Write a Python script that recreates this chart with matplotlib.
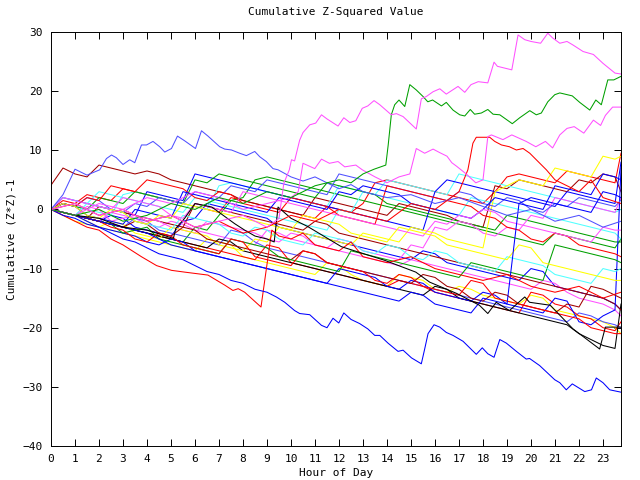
import matplotlib
matplotlib.use("Agg")
import matplotlib.pyplot as plt

# colores del terminal png de gnuplot
RED = "#ff0000"
GREEN = "#00a000"
BLUE = "#0000ff"
MAGENTA = "#ff50ff"
CYAN = "#50ffff"
DKRED = "#a00000"
YELLOW = "#ffff00"
BLACK = "#000000"
LTBLUE = "#5050ff"

# rejilla de media hora para las lineas del grupo central (0 .. 23.5, 23.75)
hours = [i / 2 for i in range(48)] + [23.75]

c01 = [0, 1.5, 1, 2.5, 2, 1.5, 3.5, 3, 2.5, 2, 1.5, 1, 0.5, 0, -0.5, 2, 1.5, 1, 0.5, 0, -0.5, -1, -1.5, 0.5,
       0, -0.5, 1, 4.5, 5, 4.5, 4, 3.5, 3, 2.5, 2, 1.5, 1, 3, 5.5, 6, 5.5, 5, 4.5, 6.5, 6, 5.5, 5, 4.5, 9.5]
c02 = [4.1, 7, 6, 5.5, 7.5, 7, 6.5, 6, 6.5, 6, 5, 4.5, 4, 3.5, 3, 2.5, 1.5, 1, 0.5, 0, -0.5, -1, 2, 1.5,
       1, 0.5, 0, -0.5, -1, 1, 0.5, 0, -0.5, -1, -2, -2.5, -3, 4, 3.5, 5, 4.5, 4, 3.5, 3, 5, 4.5, 6, 5.5, 3]
c03 = [0, -0.5, -1, -1.5, -2, -1, -1.5, -3, -3.5, -4, -4.5, -2, -1.5, 1, 0.5, 0, -0.5, -1, -1.5, -3, -3.5, -4, -4.5, -5,
       -5.5, -6, -6.5, -7, -7.5, -8, -8.5, -7, -7.5, -9, -9.5, -10, -10.5, -11, -11.5, -12, -10, -10.5, -13, -13.5, -14, -14.5, -15, -16, -17]
c04 = [0, -0.5, -1, -1.5, -2, -2.5, -3, -3.5, -4, -4.5, -5, -5.5, -3, -3.5, -1, 1.5, 2, 5, 5.5, 5, 4.5, 4, 3.5, 3,
       2.5, 2, 1.5, 1, 0.5, 0, -0.5, -1, -1.5, -2, -2.5, -3, -3.5, -4, -4.5, -5, -5.5, -6, -4, -4.5, -5, -5.5, -6, -6.5, -5]
c05 = [0, -0.5, -1, -1.5, -2, -0.5, -1, -1.5, -2.5, -3, -2, -2.5, -3.5, -4, -4.5, -5, -5.5, -6, -3.5, -4, -5, -5.5, -6, -6.5,
       -7, -7.5, -8, -8.5, -9, -9.5, -8.5, -9, -9.5, -10, -10.5, -11, -11.5, -12, -12.5, -13, -13.5, -12, -12.5, -14, -15, -15.5, -16, -17, -18]
c06 = [0, 1, 0.5, 0, -0.5, -1, 2.5, 3, 2.5, 2, 1.5, 1, 0.5, 0, 4, 4.5, 4, 3.5, 3, 2.5, 2, 1.5, 1, 0.5,
       4, 3.5, 3, 2.5, 5, 4.5, 4, 3.5, 3, 2.5, 6, 5.5, 5, 4.5, 4, 3.5, 3, 2.5, 2, 1.5, 1, 0.5, 0, -0.5, 0]
c07 = [0, -0.5, -1, -2, -3, -3.5, -4, -4.5, -5, -5.5, -6, -6.5, -7, -5, -5.5, -6, -8, -8.5, -9, -9.5, -10, -10.5, -11, -9,
       -9.5, -11, -12, -12.5, -13, -11, -11.5, -12, -13.5, -14, -13, -13.5, -14.5, -15, -15.5, -16, -14.5, -15, -17, -17.5, -18, -18.5, -19, -20, -21]
c08 = [0, -0.5, -1, -1.5, -2, -2.5, -3, -1.5, -2, -3.5, -4, -4.5, -5, -5.5, -6, -3.5, -4, -5.5, -6.5, -7, -7.5, -8, -8.5, -9,
       -9.5, -10, -10.5, -11, -11.5, -12, -12.5, -13, -13.5, -14, -14.5, -15, -15.5, -16, -16.5, -17, -17.5, -18, -18.5, -19, -17.5, -18, -19, -19.5, -20]
c09 = [0, -0.5, -1, -1.5, -2, -2.5, -3, -3.5, -4, -4.5, -5, -5.5, -6, -6.5, -7, -7.5, -8, -8.5, -6, -6.5, -9, -9.5, -10, -10.5,
       -11, -11.5, -12, -12.5, -13, -12, -12.5, -13, -14, -14.5, -15, -15.5, -16, -16.5, -17, -17.5, -14, -14.5, -16, -16.5, -18, -18.5, -20, -20.5, -19]
c10 = [0, -0.5, -1, -1.5, -2, -2.5, -3, -3.5, -4, -4.5, -5, -5.5, -6, -6.5, -5, -5.5, -7, -7.5, -8, -8.5, -9, -9.5, -10, -10.5,
       -11, -11.5, -12, -12.5, -13, -13.5, -14, -14.5, -13, -13.5, -15, -15.5, -16, -16.5, -17, -17.5, -18, -18.5, -19, -19.5, -21, -22, -23, -23.5, -16]
c11 = [0, 2, 1.5, 1, 0.5, 0, -0.5, -1, 3, 2.5, 2, 1.5, 6, 5.5, 5, 4.5, 4, 3.5, 3, 2.5, 2, 1.5, 1, 0.5,
       0, -0.5, -1, -1.5, -2, -2.5, -3, -3.5, 3, 5, 4.5, 4, 3.5, 3, 2.5, 2, 1.5, 1, 0.5, 3, 2.5, 2, 1.5, 1, 8]
c12 = [0, 2, 1.5, 1, 3, 2.5, 2, 1.5, 1, 0.5, 0, -0.5, 2, 1.5, 1, 0.5, 0, -0.5, -1, -1.5, -2, -2.5, -3, -3.5,
       0, -0.5, 3, 2.5, 2, 1.5, 1, 0.5, 0, -0.5, -1, 2, 1.5, 1, 0.5, 0, -0.5, -1, -1.5, -2, -2.5, -3, -3.5, -4, -5]
c13 = [0, -0.5, -1, -1.5, 0.5, 0, -0.5, -1, -1.5, -2, -2.5, -3, 1, 0.5, 0, -0.5, -1, -1.5, -2, -2.5, -3, -3.5, -2, -2.5,
       -4, -4.5, -5, -5.5, -6, -6.5, -7, -7.5, -8, -8.5, -9, -9.5, -10, -10.5, -11, -11.5, -12, -12.5, -13, -13.5, -14, -14.5, -15, -16, -17]
c14 = [0, 1, 0.5, 0, 2, 1.5, 1, 3, 2.5, 2, 1.5, 1, 5, 4.5, 6, 5.5, 5, 4.5, 4, 3.5, 3, 2.5, 2, 4.5,
       4, 3.5, 3, 2.5, 1, 0.5, 0, -0.5, -1, -1.5, -2, -2.5, -3, -3.5, -1, -1.5, -2, -2.5, -3, -3.5, -4, -4.5, -5, -5.5, -5.5]
c15 = [0, -0.5, -1, 0.5, 0, -2, -1.5, -1, -1.5, -2, -3, -3.5, -4, -2, -2.5, -3, -3.5, -4, -5, -5.5, -4, -4.5, -6, -6.5,
       -5, -5.5, -7, -7.5, -8, -8.5, -6, -6.5, -3, -3.5, -2, -2.5, -4, -4.5, -3, -3.5, -1, -1.5, 2, 1.5, 1, 0.5, 0, -0.5, 2]
c16 = [0, -1, -2, -2.5, -3, -2, -2.5, -4, -4.5, -5, -3, -3.5, -4, -4.5, -6, -6.5, -7, -5, -5.5, -3, -3.5, -4, -4.5, -5,
       -5.5, -6, -4, -4.5, -5, -5.5, -3, -3.5, -4, -5, -5.5, -6, -6.5, 3, 4, 5, 4.5, 4, 7, 6.5, 6, 5.5, 9, 8.5, 9]
c17 = [0, -0.5, -1, -2, -3, -3.5, -4, -4.5, -5.5, -6, -5, -5.5, -7, -7.5, -8, -8.5, -9, -9.5, -10, -10.5, -11, -11.5, -12, -12.5,
       -10, -10.5, -11, -11.5, -13, -13.5, -12, -12.5, -14, -14.5, -15, -15.5, -14, -14.5, -16, -16.5, -17, -17.5, -15, -15.5, -19, -19.5, -18, -17, 7]
c18 = [0, 1, 0.5, 2, 1.5, 0, -0.5, 1, 0.5, 2, 1.5, 1, 3, 2.5, 2, 4, 3.5, 3, 5, 4.5, 4, 3.5, 3, 2.5,
       6, 5.5, 5, 4.5, 4, 3.5, 3, 2.5, 2, 1.5, 3, 2.5, 1, 0.5, 2, 1.5, 0, -0.5, 1, 0.5, 2, 1.5, 1, 0.5, 1.6]
c19 = [0, 1, 0.5, 2, 1.5, 4, 3.5, 3, 5, 4.5, 4, 3.5, 2, 1.5, 3, 2.5, 1, 0.5, 0, -0.5, 2, 1.5, 1, 0.5,
       -1, -1.5, -2, -2.5, 4, 3.5, 3, 2.5, 2, 1.5, 1, 0.5, -1, -1.5, -3, -3.5, -5, -5.5, -4, -4.5, -6, -6.5, -7, -7.5, -8]
c20 = [0, -0.5, -1, -1.5, -2, -2.5, -3, -2, -2.5, -4, -4.5, -3, -3.5, -5, -5.5, -6, -6.5, -7, -7.5, -8, -8.5, -7, -7.5, -9,
       -9.5, -10, -10.5, -11, -11.5, -12, -12.5, -11, -11.5, -13, -13.5, -15, -15.5, -14, -14.5, -16, -16.5, -17, -17.5, -16, -16.5, -13, -13.5, -14.5, -15]
c21 = [0, -0.5, -1, -1.5, -2, -2.5, -4, -3.5, -3, -5, -5.5, -6, -6.5, -7, -7.5, -5, -5.5, -6, -6.5, -8, -8.5, -9, -9.5, -10,
       -10.5, -7, -7.5, -8, -8.5, -9, -9.5, -10, -10.5, -11, -11.5, -9, -9.5, -10, -10.5, -11, -11.5, -12, -6, -6.5, -7, -7.5, -8, -8.5, -9]
c22 = [0, -0.5, -1, 1, 0.5, 0, -0.5, -2, -2.5, -3, -3.5, -1, -1.5, -2, -2.5, -4, -4.5, -3, -3.5, -5, -5.5, -6, -4, -4.5,
       -5, -5.5, -7, -7.5, -6, -6.5, -8, -8.5, -7, -7.5, -9, -9.5, -10, -10.5, -8, -8.5, -9, -9.5, -11, -11.5, -12, -12.5, -10, -10.5, -10]
c23 = [0, 1, 0.5, -1, -1.5, -2, -2.5, 0, -0.5, -1, -1.5, 3, 2.5, 2, 1.5, 1, 0.5, 0, -0.5, 2, 1.5, 1, 0.5, 0,
       3, 2.5, 4, 3.5, 3, 2.5, 1, 0.5, 0, -0.5, -1, -1.5, 0, 2, 1.5, 1, 0.5, 0, 4, 3.5, 3, 2.5, 6, 5.5, 5]
c24 = [0, 2, 1.5, 1, 0.5, 0, 2, 1.5, 1, 0.5, -1, -1.5, 1, 0.5, 0, -0.5, 3, 2.5, 2, 1.5, 1, 0.5, 0, -0.5,
       -1, -1.5, -2, -2.5, -3, -3.5, -4, -4.5, -2, -2.5, -1, -1.5, 0, -0.5, -2, -2.5, -3, -3.5, -4, -4.5, -5, -5.5, -3, -3.5, -3.5]
c25 = [0, 1, 0.5, -1, -1.5, 0, -0.5, -2, -2.5, -1, -1.5, 1, 0.5, 0, -0.5, -1, -1.5, -2, -2.5, -3, -3.5, -1, -1.5, -2,
       -2.5, -4, -4.5, -5, -5.5, -3, -3.5, -4, -4.5, -6, -6.5, -7, -7.5, -8, -8.5, -6, -6.5, -9, -9.5, -10, -10.5, -11, -11.5, -12, -12]
c26 = [0, -0.5, -1, -1.5, -2, -3, -3.5, -5, -5.5, -4, -4.5, -6, -6.5, -7, -7.5, -5, -5.5, -8, -8.5, -9, -9.5, -7, -7.5, -9,
       -9.5, -10, -10.5, -12, -12.5, -11, -11.5, -13, -13.5, -14, -14.5, -12, -12.5, -15, -15.5, -16, -16.5, -17, -17.5, -18, -18.5, -20, -20.5, -21, -21]
c27 = [0, -0.5, -1, -1.5, -2, -2.5, -3, -3.5, -4, -5, -6, -6.5, -7, -7.5, -8, -8.5, -9, -9.5, -10, -10.5, -11, -11.5, -12, -12.5,
       -13, -13.5, -14, -14.5, -15, -15.5, -14, -14.5, -16, -16.5, -17, -17.5, -15, -15.5, -16, 1, 2, 1.5, 1, 0.5, 0, -0.5, 3, 2.5, 2]

# lineas destacadas, leidas con mas detalle
a_h = [0, 1, 2, 3, 4, 5, 6, 7, 8, 9, 9.5, 9.7, 9.93, 10.02, 10.15, 10.36, 10.5, 10.78, 11.03, 11.27,
       11.5, 11.96, 12.2, 12.45, 12.7, 12.97, 13.2, 13.46, 13.7, 14.18, 14.39, 14.67, 15.22, 15.43,
       15.64, 15.92, 16.2, 16.47, 16.96, 17.24, 17.5, 17.8, 18.2, 18.46, 18.6, 19.2, 19.46, 19.74,
       20.0, 20.4, 20.7, 20.9, 21.2, 21.5, 21.75, 22.17, 22.6, 23.0, 23.5, 23.75]
a_v = [0, 1, -1, 0, -2, -1, -3, -2, -1, -3, -1.5, 4.4, 6.7, 8.4, 8.2, 11.7, 13.0, 14.3, 14.6, 16.0,
       15.3, 14.1, 15.5, 14.7, 15.0, 17.1, 17.5, 18.4, 17.7, 16.0, 16.2, 15.7, 13.6, 18.7,
       19.1, 19.9, 20.4, 19.5, 20.8, 19.8, 21.1, 21.6, 21.4, 24.9, 24.2, 23.6, 29.5, 28.7,
       28.4, 28.1, 29.8, 29.0, 28.1, 28.4, 27.8, 26.7, 26.2, 24.7, 23.05, 22.9]

b_h = [0, 1, 2, 3, 4, 5, 6, 7, 8, 9, 10, 11, 12, 12.5, 13, 13.46, 13.95, 14.05, 14.18, 14.32, 14.5,
       14.74, 14.95, 15.22, 15.5, 15.7, 15.9, 16.27, 16.47, 16.75, 17.03, 17.24, 17.47, 17.65, 17.93,
       18.2, 18.42, 18.7, 19.22, 19.53, 19.95, 20.22, 20.43, 20.7, 20.99, 21.2, 21.72, 22.03, 22.45,
       22.7, 22.93, 23.2, 23.45, 23.75]
b_v = [0, -1, 0, -2, -1, 1, 0, 2, 1, 3, 2, 4, 5, 4.5, 6, 6.8, 7.5, 10.9, 16.0, 17.7, 18.5,
       17.4, 21.1, 20.2, 19.1, 18.2, 18.5, 17.5, 18.1, 16.8, 16.0, 15.8, 16.9, 16.1, 16.3,
       16.9, 16.1, 16.0, 14.5, 15.5, 16.7, 16.0, 16.3, 18.2, 19.4, 19.7, 19.2, 18.1, 16.8,
       18.5, 17.7, 21.9, 21.9, 22.5]

c_h = [0, 0.5, 1, 1.5, 2, 2.5, 3, 3.5, 4, 4.5, 5, 5.5, 6, 6.5, 7, 7.5, 8, 8.5, 9, 9.39, 9.74,
       10.15, 10.36, 10.78, 11.27, 11.5, 11.75, 11.99, 12.2, 12.5, 12.86, 13.2, 13.49, 13.7, 14.04,
       14.46, 14.67, 15.02, 15.43, 15.57, 15.71, 15.96, 16.2, 16.47, 16.75, 17.17, 17.72, 17.97,
       18.2, 18.46, 18.7, 18.97, 19.39, 19.8, 19.94, 20.36, 20.99, 21.2, 21.47, 21.72, 22.24, 22.52,
       22.72, 23.0, 23.28, 23.75]
c_v = [0, -1, -1.5, -2.5, -3, -4, -5, -5.5, -6.5, -7.5, -8, -8.5, -9.5, -10.5, -11, -12, -12.5, -13.5, -14, -14.8, -15.7,
       -17.1, -17.6, -17.8, -19.6, -20.0, -18.4, -19.2, -17.5, -18.6, -19.3, -20.2, -21.3, -21.3, -22.6,
       -24.0, -23.8, -25.1, -26.1, -23.6, -21.0, -19.5, -19.9, -20.8, -21.3, -22.3, -24.5, -23.4,
       -24.4, -25.0, -22.0, -22.6, -24.0, -25.3, -25.2, -26.4, -28.8, -29.3, -30.5, -29.5, -30.8, -30.5,
       -28.5, -29.3, -30.5, -30.9]

d_h = [0, 0.5, 1.0, 1.5, 2.03, 2.31, 2.52, 2.72, 3.0, 3.28, 3.49, 3.77, 3.98, 4.25, 4.53, 4.74, 5.02,
       5.27, 5.57, 6.02, 6.27, 6.54, 7.03, 7.24, 7.52, 7.86, 8.14, 8.49, 8.7, 8.97, 9.25, 9.46, 10,
       10.5, 11, 11.5, 12, 12.5, 13, 14, 15, 16, 17, 18, 19, 20, 21, 22, 23, 23.75]
d_v = [0, 2.5, 6.8, 5.8, 6.7, 8.6, 9.2, 8.75, 7.6, 8.4, 7.9, 10.9, 10.9, 11.5, 10.6, 9.7, 10.3,
       12.4, 11.6, 10.3, 13.3, 12.4, 10.6, 10.2, 10.05, 9.5, 9.1, 9.8, 8.9, 8.1, 6.9, 6.7, 5.5,
       4.8, 5.5, 4.5, 3.5, 4.2, 3, 2, 2.5, 1, 2, 0.5, -1, 0, -2, -1, -3, -2]

e_h = [0, 0.5, 1, 1.5, 2, 2.5, 3, 3.77, 4.4, 5.02, 5.57, 6.54, 7.24, 7.58, 7.8, 8.07, 8.75, 9.2, 9.5,
       10, 10.5, 11, 12, 12.5, 13, 14, 15, 16, 17, 18, 19, 20, 21, 22, 23, 23.75]
e_v = [0, -1, -2, -3, -3.5, -5, -6, -8, -9.5, -10.3, -10.6, -11.1, -12.8, -13.7, -13.4, -14.0, -16.5, -3.5, -4.5,
       -5, -4, -6, -7, -5.5, -8, -9, -8, -10, -11, -12, -11, -13, -14, -13, -15, -14]

f_h = [0, 1, 2, 3, 4, 5, 6, 7, 8, 9, 10, 10.3, 10.5, 10.99, 11.27, 11.6, 11.96, 12.24, 12.7, 12.97,
       13.5, 14, 14.5, 14.95, 15.22, 15.57, 15.92, 16.2, 16.5, 16.7, 16.9, 17.3, 17.7, 18.0, 18.2,
       18.35, 18.83, 19.2, 19.8, 20.2, 20.6, 20.9, 21.2, 21.5, 21.8, 22.2, 22.6, 22.9, 23.1, 23.4, 23.75]
f_v = [0, -1, 1, 0, 2, 1, 3, 2, 0, 1, 2, 3, 7.8, 6.9, 8.5, 7.8, 8.1, 7.2, 7.5, 6.7,
       5.5, 4.5, 5.5, 6.0, 10.3, 9.5, 10.2, 9.6, 9.0, 7.9, 7.3, 6, 4.5, 5, 12.3,
       12.6, 11.8, 12.6, 11.5, 10.6, 11.5, 10.4, 12.6, 13.7, 14.0, 12.9, 15.1, 14.2, 15.9, 17.3, 17.3]

g_h = [0, 1, 2, 3, 4, 5, 6, 7, 8, 9, 10, 11, 12, 13, 14, 15, 16, 17, 17.37, 17.58, 17.72, 18.28,
       18.49, 18.77, 19.1, 19.39, 19.67, 19.95, 20.22, 20.64, 21, 21.5, 22, 22.5, 23, 23.75]
g_v = [0, 1, -1, 0, -2, -1, -3, -2, -4, -3, -1, -2, 0, -1, -2, 1, 0, 3, 6.7, 11.2, 12.2, 12.2,
       11.5, 10.9, 10.6, 10.05, 10.3, 9.5, 8.4, 6.7, 5, 4, 3, 5, 2, 1]

k_h = [0, 1, 2, 3, 4, 5.1, 5.2, 5.57, 6.0, 6.7, 7.65, 8.07, 8.5, 9.0, 9.3, 9.46, 10, 10.7, 12.1,
       13.9, 15.2, 15.78, 16.9, 17.85, 18.2, 18.55, 19.1, 19.74, 19.94, 20.8, 21.75, 22.86, 23.1, 23.75]
k_v = [0, -1, -1.5, -3, -3.5, -4.9, -3.2, -1.5, 1.0, 0.4, -2.4, -3.5, -4.5, -5, -5.5, 0.4, -1.5, -2.9, -6.3,
       -8.6, -10.6, -12.3, -14.2, -16.2, -17.6, -15.7, -17.1, -14.8, -15.7, -16.2, -20.2, -23.6, -19.9, -19.9]

cluster = [
    (c01, RED), (c02, DKRED), (c03, BLUE), (c04, GREEN), (c05, MAGENTA), (c06, CYAN),
    (c07, YELLOW), (c08, LTBLUE), (c09, RED), (c10, BLACK), (c11, BLUE), (c12, CYAN),
    (c13, DKRED), (c14, GREEN), (c15, MAGENTA), (c16, YELLOW), (c17, BLUE), (c18, LTBLUE),
    (c19, RED), (c20, DKRED), (c21, GREEN), (c22, CYAN), (c23, BLUE), (c24, MAGENTA),
    (c25, YELLOW), (c26, RED), (c27, BLUE),
]
featured = [
    (d_h, d_v, LTBLUE), (e_h, e_v, RED), (k_h, k_v, BLACK), (c_h, c_v, BLUE),
    (g_h, g_v, RED), (f_h, f_v, MAGENTA), (b_h, b_v, GREEN), (a_h, a_v, MAGENTA),
]

plt.rcParams['font.family'] = ['DejaVu Sans Mono']
fig = plt.figure(figsize=(6.4, 4.8), dpi=100)
ax = fig.add_axes([51 / 640, 1 - 446 / 480, 570 / 640, 414 / 480])

for vals, col in cluster:
    ax.plot(hours[:len(vals)], vals, color=col, lw=0.75)
for h, v, col in featured:
    ax.plot(h, v, color=col, lw=0.75)

ax.set_xlim(0, 23.75)
ax.set_ylim(-40, 30)
ax.set_xticks(range(24))
ax.set_yticks(range(-40, 31, 10))
ax.tick_params(direction='in', length=5, width=0.7, top=True, right=True, labelsize=8, pad=6)
for s in ax.spines.values():
    s.set_linewidth(0.7)

ax.set_title('Cumulative Z-Squared Value', fontsize=8, pad=12)
ax.set_xlabel('Hour of Day', fontsize=8, labelpad=3)
ax.set_ylabel('Cumulative (Z*Z)-1', fontsize=8, labelpad=4)

fig.savefig('out.png')
